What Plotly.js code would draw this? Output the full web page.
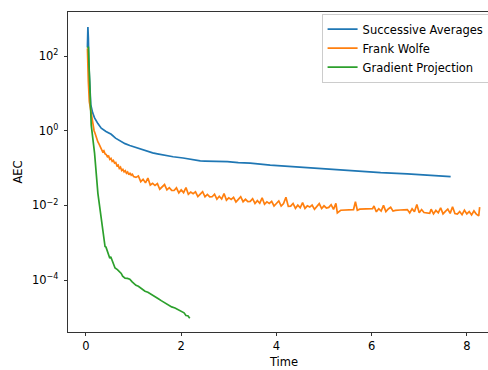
<!DOCTYPE html>
<html>
<head>
<meta charset="utf-8">
<script src="https://cdn.plot.ly/plotly-3.0.1.min.js"></script>
<style>
  html, body { margin: 0; padding: 0; overflow: hidden; background: #fff; }
  #chart { width: 520px; height: 370px; }
</style>
</head>
<body>
<div id="chart"></div>
<script>
// ---- data ----
const seriesNames = ["Successive Averages", "Frank Wolfe", "Gradient Projection"];

const saTime = [0.03, 0.04, 0.05, 0.06, 0.08, 0.10, 0.14, 0.18, 0.25, 0.32, 0.42, 0.53, 0.62, 0.72, 0.82, 0.92, 1.00, 1.10, 1.20, 1.30, 1.40, 1.50, 1.70, 1.83, 2.04, 2.20, 2.40, 2.50, 2.70, 2.97, 3.20, 3.45, 3.87, 4.20, 4.65, 4.93, 5.35, 5.98, 6.19, 6.75, 7.20, 7.66];
const saAEC  = [170, 600, 300, 60, 12, 5.0, 3.0, 2.2, 1.55, 1.17, 0.95, 0.80, 0.63, 0.52, 0.45, 0.40, 0.37, 0.335, 0.305, 0.28, 0.255, 0.24, 0.21, 0.20, 0.185, 0.17, 0.155, 0.153, 0.153, 0.148, 0.140, 0.135, 0.120, 0.112, 0.105, 0.095, 0.089, 0.079, 0.075, 0.070, 0.064, 0.059];

const fwTime = [0.03, 0.04, 0.05, 0.07, 0.09, 0.11, 0.13, 0.15, 0.17, 0.19, 0.21, 0.23, 0.25, 0.27,
  0.300, 0.325, 0.350, 0.375, 0.400, 0.425, 0.450, 0.475, 0.500, 0.525, 0.550, 0.575, 0.600, 0.625, 0.650, 0.675, 0.700, 0.725, 0.750, 0.775, 0.800, 0.825, 0.850, 0.875, 0.900, 0.925, 0.950, 0.975, 1.000,
  1.05, 1.10, 1.15, 1.20, 1.25, 1.30, 1.35, 1.40, 1.45, 1.50, 1.55, 1.60, 1.65, 1.70, 1.75, 1.80, 1.85, 1.90, 1.95, 2.00,
  2.05, 2.10, 2.15, 2.20, 2.25, 2.30, 2.35, 2.40, 2.45, 2.50, 2.55, 2.60, 2.65, 2.70, 2.75, 2.80, 2.85, 2.90, 2.95, 3.00,
  3.05, 3.10, 3.15, 3.20, 3.25, 3.30, 3.35, 3.40, 3.45, 3.50, 3.55, 3.60, 3.65, 3.70, 3.75, 3.80, 3.85, 3.90, 3.95, 4.00,
  4.05, 4.10, 4.15, 4.20, 4.25, 4.30, 4.35, 4.40, 4.45, 4.50, 4.55, 4.60, 4.65, 4.70, 4.75, 4.80, 4.85, 4.90, 4.95, 5.00,
  5.05, 5.10, 5.15, 5.20, 5.25, 5.28, 5.35, 5.45, 5.55, 5.62, 5.66, 5.70, 5.75, 5.85, 5.95, 6.02,
  6.05, 6.10, 6.15, 6.20, 6.25, 6.30, 6.35, 6.40, 6.45, 6.50, 6.60, 6.70,
  6.75, 6.80, 6.85, 6.90, 6.95, 7.00, 7.05, 7.10, 7.15, 7.22,
  7.25, 7.30, 7.35, 7.40, 7.45, 7.50, 7.55, 7.60, 7.65, 7.70, 7.75, 7.80,
  7.85, 7.90, 7.95, 8.00, 8.05, 8.10, 8.15, 8.20, 8.25, 8.27];
const fwAEC = [160, 30, 20, 6, 4, 2.5, 1.7, 1.26, 1.0, 0.85, 0.68, 0.62, 0.50, 0.45,
  0.36, 0.33, 0.27, 0.29, 0.24, 0.23, 0.20, 0.21, 0.17, 0.18, 0.15, 0.16, 0.135, 0.14, 0.115, 0.12, 0.097, 0.105, 0.086, 0.092, 0.079, 0.085, 0.072, 0.078, 0.066, 0.074, 0.064, 0.068, 0.059,
  0.056, 0.061, 0.043, 0.050, 0.040, 0.054, 0.035, 0.039, 0.034, 0.038, 0.027, 0.0315, 0.036, 0.026, 0.0297, 0.0252, 0.025, 0.0294, 0.0216, 0.0259,
  0.0219, 0.030, 0.0198, 0.0227, 0.0205, 0.023, 0.0172, 0.020, 0.0232, 0.0169, 0.0196, 0.0169, 0.017, 0.0199, 0.0146, 0.0175, 0.0148, 0.0207, 0.0138, 0.0159,
  0.0144, 0.0163, 0.0123, 0.0145, 0.0170, 0.0125, 0.0145, 0.0126, 0.0128, 0.0151, 0.0112, 0.0134, 0.0114, 0.0159, 0.0107, 0.0124, 0.0113, 0.0128, 0.0096, 0.0112,
  0.0131, 0.0096, 0.0111, 0.0165, 0.0094, 0.0095, 0.0112, 0.0083, 0.0101, 0.0086, 0.0118, 0.0083, 0.0097, 0.0090, 0.0102, 0.0078, 0.0093, 0.0111, 0.0082, 0.0097,
  0.0085, 0.0088, 0.0104, 0.0078, 0.0113, 0.0063, 0.0074, 0.0075, 0.0076, 0.0077, 0.0125, 0.0074, 0.0079, 0.0080, 0.0079, 0.0082,
  0.0096, 0.0067, 0.0081, 0.0070, 0.0100, 0.0068, 0.0080, 0.0089, 0.0070, 0.0073, 0.0075, 0.0076,
  0.0077, 0.0063, 0.0081, 0.0067, 0.0105, 0.0063, 0.0077, 0.0064, 0.0062, 0.0061,
  0.0079, 0.0059, 0.0073, 0.0063, 0.0086, 0.0059, 0.0069, 0.0079, 0.0061, 0.0092, 0.0060, 0.0058,
  0.0068, 0.0056, 0.0074, 0.0059, 0.0068, 0.0055, 0.0071, 0.0058, 0.0052, 0.0090];

const gpTime = [0.03, 0.05, 0.11, 0.18, 0.25, 0.32, 0.36, 0.38, 0.40, 0.42, 0.44, 0.46, 0.48, 0.50, 0.52, 0.55, 0.58, 0.61, 0.66, 0.71, 0.74, 0.77, 0.82, 0.87, 0.92, 0.97, 1.05, 1.10, 1.15, 1.20, 1.24, 1.30, 1.37, 1.45, 1.52, 1.58, 1.66, 1.72, 1.80, 1.87, 1.94, 2.01, 2.06, 2.10, 2.14, 2.18];
const gpAEC  = [175, 170, 1.4, 0.25, 0.021, 0.004, 0.0018, 0.0010, 0.00079, 0.00076, 0.00063, 0.00056, 0.00050, 0.00038, 0.00042, 0.00032, 0.00027, 0.00021, 0.00019, 0.000166, 0.000150, 0.000126, 0.000112, 0.000110, 0.000105, 0.000089, 0.000072, 0.000068, 0.000060, 0.000055, 0.000050, 0.000047, 0.000042, 0.0000355, 0.0000316, 0.000028, 0.000024, 0.000022, 0.000019, 0.0000178, 0.0000158, 0.0000141, 0.0000132, 0.0000112, 0.0000110, 0.0000095];

const yTickVals = [1e-4, 1e-2, 1, 1e2];
const yTickText = ["10<sup>\u22124</sup>", "10<sup>\u22122</sup>", "10<sup>0</sup>", "10<sup>2</sup>"];
const xTickVals = [0, 2, 4, 6, 8];
const xTickText = ["0", "2", "4", "6", "8"];

// ---- drawing ----
const colors = ["#1f77b4", "#ff7f0e", "#2ca02c"];
const lw = 1.7;
const traces = [
  {x: saTime, y: saAEC, name: seriesNames[0], mode: "lines", line: {color: colors[0], width: lw}},
  {x: fwTime, y: fwAEC, name: seriesNames[1], mode: "lines", line: {color: colors[1], width: lw}},
  {x: gpTime, y: gpAEC, name: seriesNames[2], mode: "lines", line: {color: colors[2], width: lw}}
];

const font = {family: "DejaVu Sans, sans-serif", size: 11.5, color: "#000"};
const layout = {
  width: 520, height: 370,
  margin: {l: 68, r: 20, t: 12, b: 38},
  paper_bgcolor: "#fff", plot_bgcolor: "#fff",
  font: font,
  showlegend: true,
  legend: {
    x: 0.587, y: 0.995, xanchor: "left", yanchor: "top",
    bgcolor: "rgba(255,255,255,0.8)", bordercolor: "#cccccc", borderwidth: 1,
    font: font, itemwidth: 30, tracegroupgap: 0
  },
  xaxis: {
    range: [-0.378, 8.697],
    tickvals: xTickVals, ticktext: xTickText,
    ticks: "outside", ticklen: 3.5, tickwidth: 0.8, tickcolor: "#000",
    showline: true, linecolor: "#000", linewidth: 0.8, mirror: true,
    showgrid: false, zeroline: false,
    title: {text: "Time", font: font, standoff: 5}
  },
  yaxis: {
    type: "log",
    range: [-5.393, 3.179],
    tickvals: yTickVals, ticktext: yTickText,
    ticks: "outside", ticklen: 3.5, tickwidth: 0.8, tickcolor: "#000",
    ticklabelstandoff: 3,
    showline: true, linecolor: "#000", linewidth: 0.8, mirror: true,
    showgrid: false, zeroline: false,
    title: {text: "AEC", font: font, standoff: 6}
  }
};

Plotly.newPlot("chart", traces, layout, {displayModeBar: false, staticPlot: true});
</script>
</body>
</html>
